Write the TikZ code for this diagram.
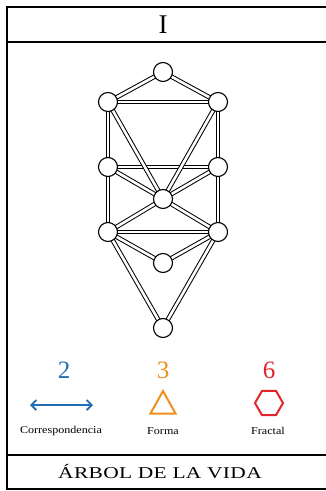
\documentclass[tikz,border=0pt]{standalone}
\usepackage{fontspec}
\setmainfont{Liberation Serif}
\newfontfamily\widefont[FakeStretch=1.15]{Liberation Serif}
\newfontfamily\titlefont[FakeStretch=1.3,LetterSpace=2]{Liberation Serif}
\usetikzlibrary{arrows.meta}
\definecolor{cblue}{HTML}{1F6DB3}
\definecolor{corange}{HTML}{F0901E}
\definecolor{cred}{HTML}{E0262B}
\begin{document}
\begin{tikzpicture}[x=1pt,y=-1pt,
  sefira/.style={circle,draw=black,fill=white,line width=1.1pt,minimum size=19pt,inner sep=0pt},
  canal/.style={draw=black,line width=1pt,double=white,double distance=2.6pt},
  framebox/.style={draw=black,line width=1.8pt},
  lbl/.style={font=\widefont\fontsize{10.5}{12}\selectfont,inner sep=0pt},
  num/.style={font=\fontsize{25}{28}\selectfont,inner sep=0pt}]
\useasboundingbox (0,0) rectangle (325,491);
\fill[white] (0,0) rectangle (325,491);
% frame
\draw[framebox] (7,7) rectangle (340,489);
\draw[framebox] (7,42) -- (340,42);
\draw[framebox] (7,455) -- (340,455);
\node[font=\fontsize{27}{30}\selectfont,inner sep=0pt] (hdr) at (163,25) {I};
\node[font=\titlefont\fontsize{16.5}{18}\selectfont,inner sep=0pt] (ftr) at (160,472) {ÁRBOL DE LA VIDA};
% tree nodes
\coordinate (top) at (163,72);
\coordinate (ul) at (108,102);
\coordinate (ur) at (218,102);
\coordinate (ml) at (108,167);
\coordinate (mr) at (218,167);
\coordinate (c) at (163,199);
\coordinate (ll) at (108,232);
\coordinate (lr) at (218,232);
\coordinate (lc) at (163,263);
\coordinate (bot) at (163,328);
% channels
\draw[canal] (top) -- (ul);
\draw[canal] (top) -- (ur);
\draw[canal] (ul) -- (ur);
\draw[canal] (ul) -- (ml);
\draw[canal] (ur) -- (mr);
\draw[canal] (ml) -- (mr);
\draw[canal] (ml) -- (ll);
\draw[canal] (mr) -- (lr);
\draw[canal] (ul) -- (c);
\draw[canal] (ur) -- (c);
\draw[canal] (ml) -- (c);
\draw[canal] (mr) -- (c);
\draw[canal] (ll) -- (c);
\draw[canal] (lr) -- (c);
\draw[canal] (ll) -- (lr);
\draw[canal] (ll) -- (lc);
\draw[canal] (lr) -- (lc);
\draw[canal] (ll) -- (bot);
\draw[canal] (lr) -- (bot);
\foreach \n in {top,ul,ur,ml,mr,c,ll,lr,lc,bot}
  \node[sefira] (s\n) at (\n) {};
% legend
\node[num,text=cblue] (n2) at (64,370) {2};
\node[num,text=corange] (n3) at (163,370) {3};
\node[num,text=cred] (n6) at (269,370) {6};
\coordinate (al) at (30,405);
\coordinate (ar) at (93,405);
\draw[cblue,line width=1.8pt,{Straight Barb[length=5pt,width=10pt]}-{Straight Barb[length=5pt,width=10pt]}] (al) -- (ar);
\draw[corange,line width=2pt,line join=miter] (150.5,413.5) -- (163,391) -- (175.5,413.5) -- cycle;
\draw[cred,line width=2pt] (269,403) ++(0:14) -- ++(120:14) -- ++(180:14) -- ++(240:14) -- ++(300:14) -- ++(0:14) -- cycle;
\node[lbl] (t2) at (61,431) {Correspondencia};
\node[lbl] (t3) at (163,431) {Forma};
\node[lbl] (t6) at (268,431) {Fractal};
\end{tikzpicture}
\end{document}
